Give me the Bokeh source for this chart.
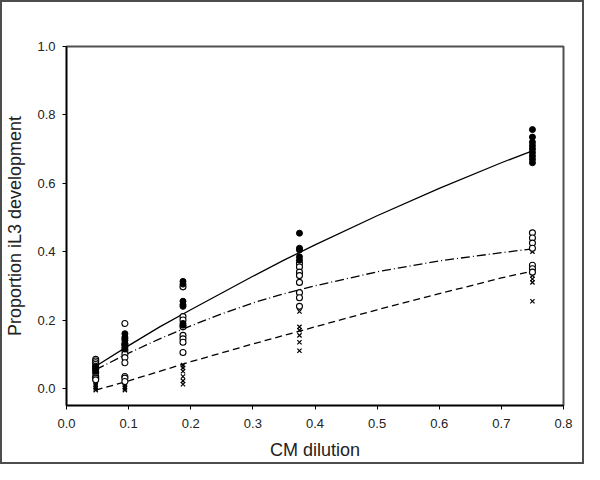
from bokeh.plotting import figure
from bokeh.layouts import column
from bokeh.models import Range1d, FixedTicker, NumeralTickFormatter
from bokeh.embed import file_html
from bokeh.resources import INLINE

# Observed data (dilution, proportion)
doses = [0.047, 0.094, 0.1875, 0.375, 0.75]

filled_vals = [
    [0.055, 0.06, 0.065, 0.05, 0.058, 0.062],
    [0.16, 0.15, 0.145, 0.14, 0.13, 0.125, 0.12, 0.115],
    [0.313, 0.305, 0.255, 0.245, 0.24, 0.19, 0.185],
    [0.454, 0.41, 0.405, 0.385, 0.375],
    [0.757, 0.735, 0.72, 0.71, 0.70, 0.69, 0.68, 0.67, 0.66],
]
open_vals = [
    [0.085, 0.08, 0.075, 0.07, 0.045, 0.035, 0.03, 0.025],
    [0.19, 0.13, 0.11, 0.10, 0.09, 0.075, 0.035, 0.03, 0.02],
    [0.297, 0.21, 0.20, 0.18, 0.155, 0.145, 0.135, 0.105],
    [0.365, 0.355, 0.34, 0.33, 0.31, 0.28, 0.265, 0.24],
    [0.455, 0.44, 0.425, 0.41, 0.36, 0.35, 0.34],
]
cross_vals = [
    [0.01, 0.005, 0.0, -0.005, 0.015, 0.02],
    [0.015, 0.01, 0.005, 0.0, -0.005],
    [0.068, 0.06, 0.05, 0.035, 0.022, 0.012],
    [0.225, 0.18, 0.17, 0.155, 0.135, 0.11],
    [0.40, 0.33, 0.32, 0.31, 0.255, 0.34],
]

# Fitted curves
curve_x = [0.047, 0.1, 0.15, 0.2, 0.25, 0.3, 0.35, 0.4, 0.5, 0.6, 0.7, 0.75]
solid_y = [0.065, 0.125, 0.18, 0.23, 0.279, 0.328, 0.375, 0.42, 0.505, 0.585, 0.66, 0.695]
dashdot_y = [0.055, 0.103, 0.145, 0.183, 0.218, 0.25, 0.277, 0.30, 0.341, 0.373, 0.397, 0.408]
dashed_y = [-0.005, 0.022, 0.05, 0.078, 0.104, 0.13, 0.155, 0.18, 0.23, 0.277, 0.323, 0.343]

x_ticks = [0.0, 0.1, 0.2, 0.3, 0.4, 0.5, 0.6, 0.7, 0.8]
y_ticks = [0.0, 0.2, 0.4, 0.6, 0.8, 1.0]


def flatten(vals):
    xs, ys = [], []
    for d, group in zip(doses, vals):
        for v in group:
            xs.append(d)
            ys.append(v)
    return xs, ys


FONT = "Liberation Sans"

p = figure(width=580, height=460, output_backend="svg", toolbar_location=None,
           x_range=Range1d(0, 0.8), y_range=Range1d(-0.05, 1.0),
           min_border_left=56, min_border_right=19, min_border_top=44,
           min_border_bottom=53)
p.grid.visible = False
p.outline_line_color = "#505050"
p.outline_line_width = 2
p.background_fill_color = "white"
p.border_fill_color = "white"

for ax in (p.xaxis[0], p.yaxis[0]):
    ax.axis_line_color = "black"
    ax.axis_line_width = 1.5
    ax.major_tick_line_color = "black"
    ax.major_tick_out = 4
    ax.major_tick_in = 0
    ax.minor_tick_out = 0
    ax.minor_tick_in = 0
    ax.major_label_text_font = FONT
    ax.major_label_text_font_size = "13px"
    ax.major_label_text_line_height = 1.0
    ax.major_label_text_color = "#222222"
    ax.axis_label_text_font = FONT
    ax.axis_label_text_font_size = "18px"
    ax.axis_label_text_line_height = 1.0
    ax.axis_label_text_font_style = "normal"
    ax.axis_label_text_color = "#222222"
    ax.formatter = NumeralTickFormatter(format="0.0")

p.xaxis[0].ticker = FixedTicker(ticks=x_ticks)
p.yaxis[0].ticker = FixedTicker(ticks=y_ticks)
p.xaxis[0].axis_label = "CM dilution"
p.yaxis[0].axis_label = "Proportion iL3 development"
p.xaxis[0].major_label_standoff = 9
p.yaxis[0].major_label_standoff = 7
p.xaxis[0].axis_label_standoff = 9
p.yaxis[0].axis_label_standoff = 9

# Curves
p.line(curve_x, solid_y, line_color="black", line_width=1.3)
p.line(curve_x, dashdot_y, line_color="black", line_width=1.3, line_dash="9 3 1 3")
p.line(curve_x, dashed_y, line_color="black", line_width=1.3, line_dash="7 4")

# Points
fx, fy = flatten(filled_vals)
ox, oy = flatten(open_vals)
cx, cy = flatten(cross_vals)
p.scatter(cx, cy, marker="x", size=6, line_color="black", line_width=1.2)
p.scatter(ox, oy, marker="circle", size=6, line_color="black", fill_color="white",
          line_width=1.1)
p.scatter(fx, fy, marker="circle", size=6, line_color="black", fill_color="black")

layout = column(p, styles={"border": "2px solid #4d4d4d"})

open("out.html", "w").write(file_html(layout, INLINE))
